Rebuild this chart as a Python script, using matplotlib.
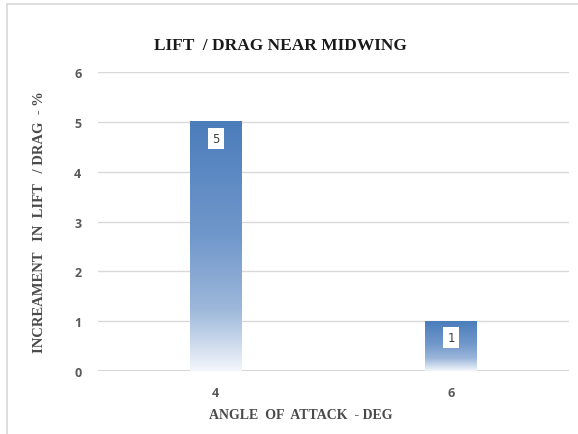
import numpy as np
import matplotlib.pyplot as plt
from matplotlib.colors import LinearSegmentedColormap
from matplotlib.lines import Line2D

categories = ['4', '6']
values = [5, 1]

title = 'LIFT  / DRAG NEAR MIDWING'
xlabel = 'ANGLE  OF  ATTACK  - DEG'
ylabel = 'INCREAMENT   IN  LIFT   / DRAG  - %'

fig = plt.figure(figsize=(5.78, 4.35), dpi=100)
ax = fig.add_axes([0.1696, 0.1448, 0.8149, 0.6874])

# bar fill fades from blue at the top to near white at the base
cmap = LinearSegmentedColormap.from_list(
    'fade', [(0.0, '#f3f6fb'), (0.25, '#9cb7da'), (0.55, '#7097cb'), (1.0, '#4b7dbb')])
grad = np.linspace(0, 1, 256).reshape(-1, 1)

x = np.arange(len(categories))
w = 0.22
for xi, v in zip(x, values):
    ax.imshow(grad, aspect='auto', cmap=cmap, origin='lower',
              extent=(xi - w / 2, xi + w / 2, 0, v), zorder=2, interpolation='bilinear')
    ax.annotate(str(v), (xi, v), xytext=(0, -12), textcoords='offset points',
                ha='center', va='center', fontsize=8.5, color='#404040', family='DejaVu Sans',
                bbox=dict(boxstyle='square,pad=0.35', fc='white', ec='none'), zorder=4)

ax.set_xlim(-0.5, 1.5)
ax.set_ylim(0, 6)
ax.set_xticks(x)
ax.set_xticklabels(categories)
ax.set_yticks(range(0, 7))
ax.yaxis.grid(True, color='#d9d9d9', lw=1)
ax.set_axisbelow(True)
for s in ax.spines.values():
    s.set_visible(False)
ax.axhline(0, color='#d0d0d0', lw=1.2, zorder=1)
ax.tick_params(length=0, labelsize=9, labelcolor='#595959', pad=12)
ax.tick_params(axis='x', pad=11)
for lab in ax.get_xticklabels() + ax.get_yticklabels():
    lab.set_fontweight('bold')
    lab.set_family('Open Sans')

fig.text(0.485, 0.894, title, ha='center', va='center', fontsize=12.5,
         fontweight='bold', family='Liberation Serif', color='#1a1a1a')
fig.text(0.521, 0.044, xlabel, ha='center', va='center', fontsize=10,
         fontweight='bold', family='Liberation Serif', color='#4a4a4a')
fig.text(0.069, 0.49, ylabel, ha='center', va='center', rotation=90, fontsize=10.5,
         fontweight='bold', family='Liberation Serif', color='#4a4a4a')

# chart frame
fig.add_artist(Line2D([7 / 578, 7 / 578], [0, 1 - 5 / 435], color='#d9d9d9', lw=1.2))
fig.add_artist(Line2D([7 / 578, 1], [1 - 5 / 435, 1 - 5 / 435], color='#d9d9d9', lw=1.2))

fig.savefig('out.png', dpi=100)
